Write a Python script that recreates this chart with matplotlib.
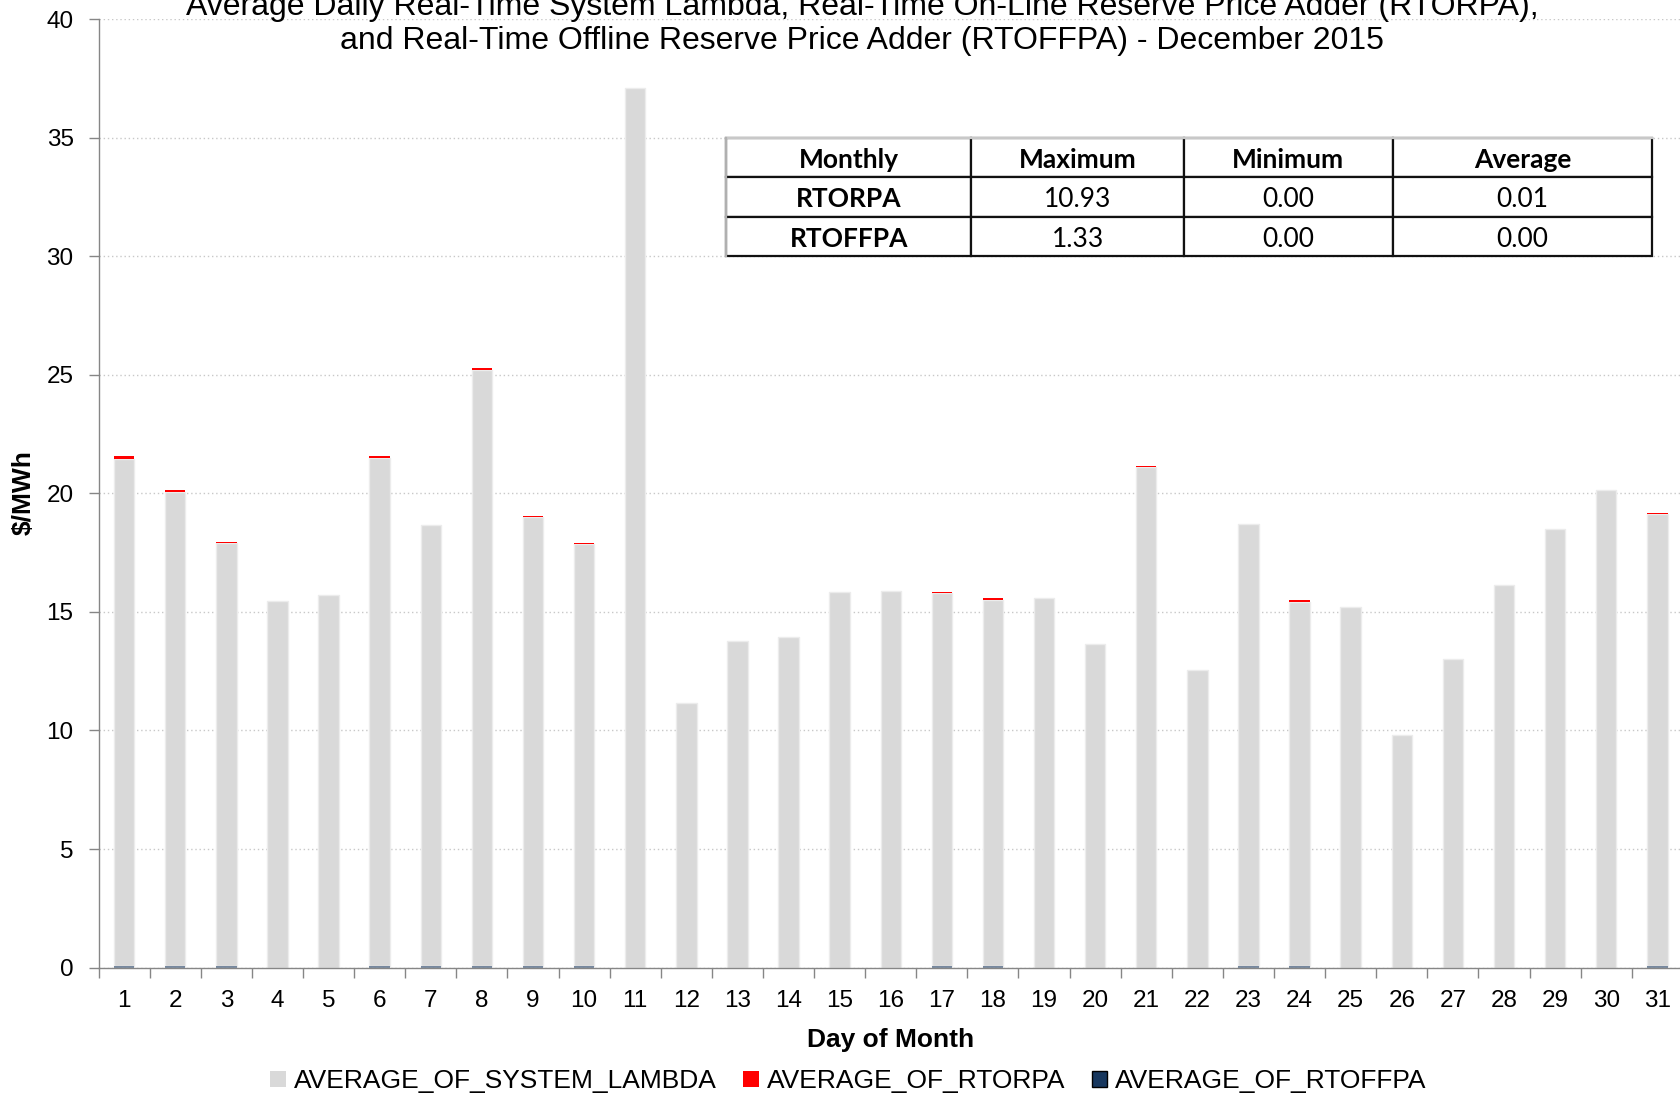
"""
Average daily real-time system lambda with RTORPA / RTOFFPA adders, December 2015.
"""

import matplotlib
matplotlib.use("Agg")
import matplotlib.pyplot as plt
from matplotlib.patches import Patch
from matplotlib.ticker import MultipleLocator

plt.rcParams["font.family"] = ["Liberation Sans", "DejaVu Sans"]

DAYS = list(range(1, 32))

SYSTEM_LAMBDA = [
    21.37, 19.99, 17.84, 15.46, 15.70, 21.41, 18.58, 25.12, 18.92, 17.79,
    37.11, 11.16, 13.76, 13.94, 15.85, 15.89, 15.74, 15.44, 15.57, 13.65,
    21.12, 12.55, 18.61, 15.35, 15.20, 9.81, 13.00, 16.13, 18.48, 20.13,
    19.06,
]
RTORPA = [
    0.14, 0.06, 0.02, 0.02, 0.00, 0.07, 0.02, 0.10, 0.05, 0.03,
    0.00, 0.00, 0.00, 0.00, 0.00, 0.00, 0.03, 0.06, 0.00, 0.00,
    0.03, 0.00, 0.03, 0.06, 0.00, 0.00, 0.00, 0.00, 0.00, 0.03,
    0.04,
]
RTOFFPA = [
    0.08, 0.08, 0.08, 0.00, 0.00, 0.08, 0.08, 0.08, 0.08, 0.08,
    0.00, 0.00, 0.00, 0.00, 0.00, 0.00, 0.08, 0.08, 0.00, 0.00,
    0.00, 0.00, 0.08, 0.08, 0.00, 0.00, 0.00, 0.00, 0.00, 0.00,
    0.08,
]

TABLE_HEADER = ["Monthly", "Maximum", "Minimum", "Average"]
TABLE_ROWS = [
    ["RTORPA", "10.93", "0.00", "0.01"],
    ["RTOFFPA", "1.33", "0.00", "0.00"],
]

TITLE_LINES = [
    "Average Daily Real-Time System Lambda, Real-Time On-Line Reserve Price Adder (RTORPA),",
    "and Real-Time Offline Reserve Price Adder (RTOFFPA) - December 2015",
]

LAMBDA_COLOR = "#d9d9d9"
RTORPA_COLOR = "#ff0000"
RTOFFPA_COLOR = "#17375e"
SPINE_COLOR = "#868686"


def draw_table(ax):
    table = ax.table(
        cellText=[TABLE_HEADER] + TABLE_ROWS,
        colWidths=[229, 198, 195, 242],
        cellLoc="center",
        bbox=[0.396, 0.75, 0.5846, 0.125],
    )
    table.auto_set_font_size(False)
    table.set_zorder(5)
    for (row, col), cell in table.get_celld().items():
        cell.set_edgecolor("#111111")
        cell.set_linewidth(1.6)
        cell.set_facecolor("white")
        bold = row == 0 or col == 0
        text = cell.get_text()
        text.set_fontfamily(["Lato", "DejaVu Sans"])
        text.set_fontsize(19)
        text.set_fontweight("bold" if bold else "normal")
        text.set_verticalalignment("center_baseline")
    # light top / left border like the source image
    ax.plot([0.396, 0.396 + 0.5846], [0.875, 0.875], transform=ax.transAxes,
            color="#c8c8c8", linewidth=1.6, zorder=6, clip_on=False)
    ax.plot([0.396, 0.396], [0.75, 0.875], transform=ax.transAxes,
            color="#b0b0b0", linewidth=1.6, zorder=6, clip_on=False)


def main():
    fig = plt.figure(figsize=(16.8, 10.95), dpi=100)
    ax = fig.add_axes([0.0587, 0.1164, 0.943, 0.866])

    lambda_bottom = RTOFFPA
    rtorpa_bottom = [a + b for a, b in zip(RTOFFPA, SYSTEM_LAMBDA)]
    width = 0.40
    ax.bar(DAYS, RTOFFPA, width=width, color=RTOFFPA_COLOR, alpha=0.55, zorder=3)
    ax.bar(DAYS, SYSTEM_LAMBDA, bottom=lambda_bottom, width=width,
           color=LAMBDA_COLOR, edgecolor="#ececec", linewidth=1.0, zorder=2)
    ax.bar(DAYS, RTORPA, bottom=rtorpa_bottom, width=width,
           color=RTORPA_COLOR, linewidth=0, zorder=3)

    ax.set_xlim(0.5, 31.5)
    ax.set_ylim(0, 40)
    ax.yaxis.set_major_locator(MultipleLocator(5))
    ax.set_xticks(DAYS)
    ax.set_xticks([d - 0.5 for d in DAYS] + [31.5], minor=True)
    ax.tick_params(axis="x", which="major", length=0, pad=16, labelsize=17.5)
    ax.tick_params(axis="x", which="minor", length=7, width=1.0, color=SPINE_COLOR)
    ax.tick_params(axis="y", which="major", length=7, width=1.0, color=SPINE_COLOR,
                   pad=11, labelsize=17.5)

    ax.grid(True, axis="y", linestyle=(0, (1, 2)), color="#c8c8c8", linewidth=1.0, zorder=0)
    ax.set_axisbelow(True)
    for side in ("top", "right"):
        ax.spines[side].set_visible(False)
    for side in ("left", "bottom"):
        ax.spines[side].set_color(SPINE_COLOR)
        ax.spines[side].set_linewidth(1.0)
        ax.spines[side].set_zorder(4)

    draw_table(ax)

    for text, y in zip(TITLE_LINES, (0.9935, 0.9625)):
        fig.text(0.513, y, text, ha="center", va="center", fontsize=23)
    fig.text(0.014, 0.55, r"\$/MWh", rotation=90, ha="center", va="center",
             fontsize=19, fontweight="bold")
    fig.text(0.530, 0.0505, "Day of Month", ha="center", va="center",
             fontsize=19, fontweight="bold")

    handles = [
        Patch(facecolor=LAMBDA_COLOR, label="AVERAGE_OF_SYSTEM_LAMBDA"),
        Patch(facecolor=RTORPA_COLOR, label="AVERAGE_OF_RTORPA"),
        Patch(facecolor=RTOFFPA_COLOR, edgecolor="black", label="AVERAGE_OF_RTOFFPA"),
    ]
    fig.legend(handles=handles, loc="center", bbox_to_anchor=(0.505, 0.0125), ncol=3,
               frameon=False, fontsize=19, handlelength=0.6, handleheight=0.6,
               handletextpad=0.3, columnspacing=1.0, borderaxespad=0)

    fig.savefig("out.png", dpi=100, facecolor="white")
    plt.close(fig)


if __name__ == "__main__":
    main()
